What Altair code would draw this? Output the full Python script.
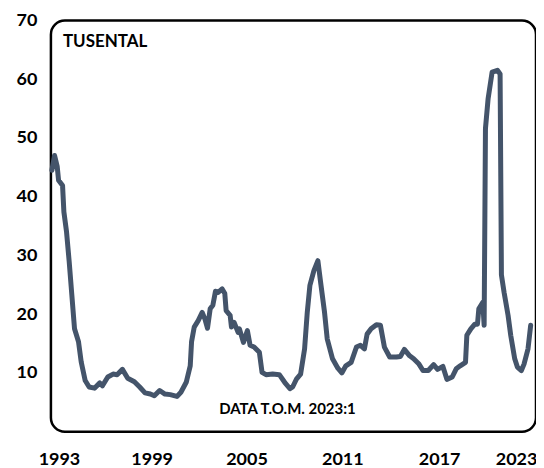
import altair as alt
import pandas as pd

# Monthly readings (YYYY-MM) and values in thousands
months = [
    "1993-01", "1993-03", "1993-05", "1993-06", "1993-09", "1993-10", "1993-12",
    "1994-02", "1994-04", "1994-06", "1994-09", "1994-11", "1995-02", "1995-05",
    "1995-09", "1996-01", "1996-03", "1996-07", "1996-11", "1997-02", "1997-06",
    "1997-10", "1998-03", "1998-07", "1998-11", "1999-03", "1999-06", "1999-10",
    "2000-02", "2000-06", "2000-11", "2001-02", "2001-06", "2001-09", "2001-10",
    "2001-12", "2002-03", "2002-06", "2002-08", "2002-10", "2002-12", "2003-02",
    "2003-04", "2003-06", "2003-09", "2003-11", "2003-12", "2004-03", "2004-04",
    "2004-06", "2004-09", "2004-10", "2005-01", "2005-04", "2005-06", "2005-09",
    "2006-01", "2006-03", "2006-06", "2006-11", "2007-04", "2007-08", "2007-12",
    "2008-02", "2008-05", "2008-08", "2008-11", "2009-01", "2009-03", "2009-06",
    "2009-09", "2009-11", "2010-02", "2010-04", "2010-08", "2010-12", "2011-03",
    "2011-06", "2011-10", "2012-02", "2012-05", "2012-08", "2012-10", "2013-01",
    "2013-05", "2013-08", "2013-11", "2014-03", "2014-08", "2014-11", "2015-02",
    "2015-06", "2015-09", "2016-01", "2016-04", "2016-08", "2016-12", "2017-03",
    "2017-07", "2017-10", "2018-02", "2018-05", "2018-08", "2018-12", "2019-01",
    "2019-04", "2019-07", "2019-09", "2019-10", "2020-01", "2020-02", "2020-03",
    "2020-05", "2020-08", "2020-12", "2021-02", "2021-03", "2021-05", "2021-08",
    "2021-10", "2022-01", "2022-03", "2022-06", "2022-08", "2022-11", "2023-01",
]
values = [
    44.5, 47.0, 45.1, 42.8, 41.9, 37.4, 34.0,
    28.9, 23.2, 17.5, 15.3, 11.9, 8.7, 7.6,
    7.4, 8.3, 7.8, 9.3, 9.8, 9.7, 10.6,
    9.1, 8.5, 7.6, 6.6, 6.4, 6.1, 7.0,
    6.4, 6.3, 6.0, 6.7, 8.4, 11.2, 15.3,
    17.8, 18.9, 20.3, 19.2, 17.6, 20.9, 21.5,
    23.9, 23.7, 24.3, 23.5, 20.6, 19.8, 17.8,
    18.6, 16.9, 17.5, 15.2, 17.2, 14.7, 14.4,
    13.5, 10.1, 9.7, 9.8, 9.7, 8.4, 7.3,
    7.6, 9.0, 9.8, 14.1, 20.3, 24.9, 27.4,
    29.1, 25.5, 20.3, 15.8, 12.4, 10.8, 10.0,
    11.2, 11.8, 14.4, 14.7, 14.1, 16.6, 17.5,
    18.2, 18.1, 14.4, 12.7, 12.7, 12.8, 14.0,
    12.9, 12.4, 11.5, 10.4, 10.4, 11.4, 10.6,
    11.1, 8.9, 9.3, 10.7, 11.2, 11.8, 16.4,
    17.5, 18.3, 18.3, 20.9, 22.0, 18.1, 51.6,
    56.7, 61.2, 61.5, 60.9, 26.7, 23.7, 19.8,
    16.4, 12.4, 11.0, 10.4, 11.5, 14.1, 18.1,
]

tick_labels = ["1993", "1999", "2005", "2011", "2017", "2023"]
tick_positions = [5.3, 75, 146.3, 218.4, 291.2, 349]  # month index where labels sit
y_ticks = [10, 20, 30, 40, 50, 60, 70]

df = pd.DataFrame({"month": months, "value": values})
df["t"] = df["month"].map(lambda s: (int(s[:4]) - 1993) * 12 + int(s[5:7]) - 1)

label_map = "{" + ",".join(f"'{('%g' % p)}':'{l}'" for p, l in zip(tick_positions, tick_labels)) + "}"

font = "Lato"

line = alt.Chart(df).mark_line(
    color="#44546A", strokeWidth=5, strokeJoin="round", strokeCap="round"
).encode(
    x=alt.X(
        "t:Q",
        scale=alt.Scale(domain=[-0.75, 364], nice=False, zero=False),
        axis=alt.Axis(
            values=tick_positions,
            labelExpr=f"{label_map}[toString(datum.value)]",
            title=None,
            labelPadding=19,
            labelFlush=False,
            labelOverlap=False,
        ),
    ),
    y=alt.Y(
        "value:Q",
        scale=alt.Scale(domain=[0, 70], nice=False),
        axis=alt.Axis(values=y_ticks, title=None, labelPadding=14),
    ),
)

unit_text = alt.Chart(pd.DataFrame({"txt": ["TUSENTAL"]})).mark_text(
    font=font, fontWeight="bold", fontSize=17, align="left", baseline="middle", color="black"
).encode(x=alt.value(12), y=alt.value(22), text="txt:N")

source_text = alt.Chart(pd.DataFrame({"txt": ["DATA T.O.M. 2023:1"]})).mark_text(
    font=font, fontWeight="bold", fontSize=15, align="center", baseline="middle", color="black"
).encode(x=alt.value(237), y=alt.value(389), text="txt:N")

chart = (
    alt.layer(line, unit_text, source_text)
    .properties(
        width=486,
        height=412,
        autosize=alt.AutoSizeParams(type="none"),
        padding={"left": 43, "top": 12, "right": 0, "bottom": 48},
    )
    .configure_view(stroke="black", strokeWidth=2.5, cornerRadius=14)
    .configure_axis(
        domain=False,
        ticks=False,
        grid=False,
        labelFont=font,
        labelFontWeight="bold",
        labelFontSize=18,
        labelColor="black",
    )
)

chart.save("out.html", embed_options={"renderer": "svg", "actions": False})
